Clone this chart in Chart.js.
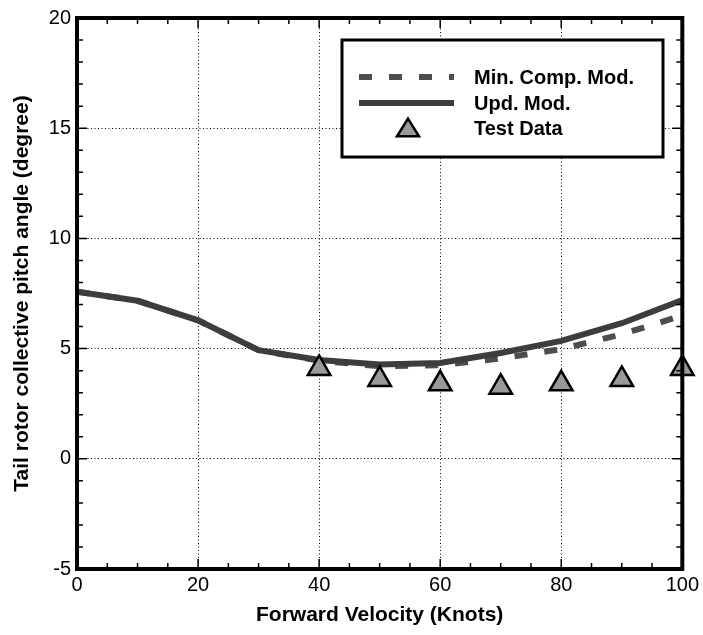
<!DOCTYPE html>
<html lang="en">
<head>
    <meta charset="UTF-8">
    <title>Tail rotor collective pitch angle</title>
    <style>
        body { margin: 0; padding: 0; background-color: #fff; }
        .chart-container { position: relative; width: 703px; height: 635px; }
    </style>
    <script src="https://cdn.jsdelivr.net/npm/chart.js"></script>
</head>
<body>
    <div class="chart-container">
        <canvas id="pitchChart"></canvas>
    </div>
    <script>
        // forward velocity (knots) for the model curves
        const velocity = [0, 10, 20, 30, 40, 50, 60, 70, 80, 90, 100];
        const minCompMod = [7.58, 7.17, 6.28, 4.93, 4.45, 4.2, 4.25, 4.55, 4.98, 5.65, 6.5];
        const updMod = [7.58, 7.17, 6.28, 4.93, 4.48, 4.28, 4.35, 4.8, 5.35, 6.15, 7.2];
        // flight test points
        const testVelocity = [40, 50, 60, 70, 80, 90, 100];
        const testData = [4.1, 3.6, 3.4, 3.25, 3.4, 3.6, 4.1];

        const xTicks = [0, 20, 40, 60, 80, 100];
        const yTicks = [-5, 0, 5, 10, 15, 20];

        const toPoints = (xs, ys) => xs.map((x, i) => ({ x: x, y: ys[i] }));

        // thick box round the plot with inward tick marks
        const framePlugin = {
            id: 'frame',
            afterDatasetsDraw(chart) {
                const { ctx, chartArea: a, scales } = chart;
                ctx.save();
                ctx.strokeStyle = '#000';
                ctx.lineWidth = 1.5;
                ctx.beginPath();
                for (let v = -5; v <= 20; v += 1) {
                    const y = scales.y.getPixelForValue(v);
                    const len = v % 5 === 0 ? 10 : 6;
                    ctx.moveTo(a.left, y); ctx.lineTo(a.left + len, y);
                    ctx.moveTo(a.right, y); ctx.lineTo(a.right - len, y);
                }
                for (let v = 0; v <= 100; v += 5) {
                    const x = scales.x.getPixelForValue(v);
                    const len = v % 20 === 0 ? 10 : 6;
                    ctx.moveTo(x, a.bottom); ctx.lineTo(x, a.bottom - len);
                    ctx.moveTo(x, a.top); ctx.lineTo(x, a.top + len);
                }
                ctx.stroke();
                ctx.lineWidth = 4;
                ctx.strokeRect(a.left, a.top, a.right - a.left, a.bottom - a.top);
                ctx.restore();
            }
        };

        // boxed legend in the upper right
        const boxLegendPlugin = {
            id: 'boxLegend',
            afterDraw(chart) {
                const ctx = chart.ctx;
                const ds = chart.data.datasets;
                const box = { x: 342, y: 40, w: 321, h: 117 };
                ctx.save();
                ctx.fillStyle = '#fff';
                ctx.fillRect(box.x, box.y, box.w, box.h);
                ctx.lineWidth = 3;
                ctx.strokeStyle = '#000';
                ctx.strokeRect(box.x, box.y, box.w, box.h);
                ctx.font = 'bold 20px "Liberation Sans", Arial, sans-serif';
                ctx.textBaseline = 'middle';
                const rows = [77, 103, 128];
                ds.forEach((d, i) => {
                    const y = rows[i];
                    if (d.showLine) {
                        ctx.beginPath();
                        ctx.strokeStyle = d.borderColor;
                        ctx.lineWidth = d.borderWidth;
                        ctx.setLineDash(d.borderDash || []);
                        ctx.moveTo(359, y);
                        ctx.lineTo(454, y);
                        ctx.stroke();
                        ctx.setLineDash([]);
                    } else {
                        const cx = 408, r = 11;
                        ctx.beginPath();
                        ctx.moveTo(cx, y - r * 0.85);
                        ctx.lineTo(cx + r, y + r * 0.75);
                        ctx.lineTo(cx - r, y + r * 0.75);
                        ctx.closePath();
                        ctx.fillStyle = d.backgroundColor;
                        ctx.fill();
                        ctx.lineWidth = d.borderWidth;
                        ctx.strokeStyle = d.borderColor;
                        ctx.stroke();
                    }
                    ctx.fillStyle = '#000';
                    ctx.fillText(d.label, 474, y + 1);
                });
                ctx.restore();
            }
        };

        const ctx = document.getElementById('pitchChart').getContext('2d');
        new Chart(ctx, {
            type: 'scatter',
            data: {
                datasets: [
                    {
                        label: 'Min. Comp. Mod.',
                        data: toPoints(velocity, minCompMod),
                        showLine: true,
                        borderColor: '#4d4d4d',
                        borderWidth: 6,
                        borderDash: [13, 17],
                        pointRadius: 0,
                        order: 2
                    },
                    {
                        label: 'Upd. Mod.',
                        data: toPoints(velocity, updMod),
                        showLine: true,
                        borderColor: '#3d3d3d',
                        borderWidth: 6,
                        pointRadius: 0,
                        order: 1
                    },
                    {
                        label: 'Test Data',
                        data: toPoints(testVelocity, testData),
                        showLine: false,
                        pointStyle: 'triangle',
                        pointRadius: 13,
                        backgroundColor: '#999999',
                        borderColor: '#000',
                        borderWidth: 2.5,
                        clip: false,
                        order: 0
                    }
                ]
            },
            options: {
                responsive: true,
                maintainAspectRatio: false,
                animation: false,
                layout: { padding: { top: 11, right: 18, left: 0, bottom: 0 } },
                plugins: {
                    legend: { display: false },
                    tooltip: { enabled: false }
                },
                scales: {
                    x: {
                        type: 'linear',
                        min: 0,
                        max: 100,
                        afterBuildTicks: s => { s.ticks = xTicks.map(v => ({ value: v })); },
                        afterFit: s => { s.height = 66; },
                        ticks: {
                            color: '#000',
                            padding: 4,
                            font: { family: '"Liberation Sans", Arial, sans-serif', size: 20 }
                        },
                        grid: { color: '#000', lineWidth: 1, drawTicks: false },
                        border: { display: false, dash: [1, 2.5] },
                        title: {
                            display: true,
                            text: 'Forward Velocity (Knots)',
                            color: '#000',
                            padding: { top: 2, bottom: 7 },
                            font: { family: '"Liberation Sans", Arial, sans-serif', size: 21, weight: 'bold' }
                        }
                    },
                    y: {
                        min: -5,
                        max: 20,
                        afterBuildTicks: s => { s.ticks = yTicks.map(v => ({ value: v })); },
                        afterFit: s => { s.width = 77; },
                        ticks: {
                            color: '#000',
                            padding: 6,
                            font: { family: '"Liberation Sans", Arial, sans-serif', size: 20 }
                        },
                        grid: { color: '#000', lineWidth: 1, drawTicks: false },
                        border: { display: false, dash: [1, 2.5] },
                        title: {
                            display: true,
                            text: 'Tail rotor collective pitch angle (degree)',
                            color: '#000',
                            padding: { top: 10, bottom: 0 },
                            font: { family: '"Liberation Sans", Arial, sans-serif', size: 21, weight: 'bold' }
                        }
                    }
                }
            },
            plugins: [framePlugin, boxLegendPlugin]
        });
    </script>
</body>
</html>
